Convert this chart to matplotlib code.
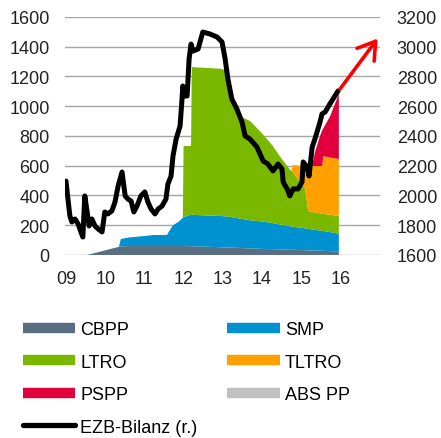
import numpy as np
import matplotlib.pyplot as plt
from matplotlib.lines import Line2D

plt.rcParams['font.family'] = ['Liberation Sans', 'DejaVu Sans']

# --- Data (EUR bn, left axis) ---
dates = [2009.00, 2009.54, 2010.35, 2010.40, 2010.61, 2011.02, 2011.22, 2011.58,
         2011.63, 2011.73, 2011.88, 2011.98, 2012.00, 2012.19, 2012.21, 2012.95,
         2013.06, 2013.18, 2013.43, 2013.70, 2014.01, 2014.26, 2014.46, 2014.74,
         2014.79, 2014.97, 2014.99, 2015.03, 2015.07, 2015.10, 2015.18, 2015.28,
         2015.35, 2015.48, 2015.54, 2015.56, 2015.74, 2015.96]

cbpp = [0, 0, 55, 58, 60, 60, 60, 60, 60, 60, 60, 60, 60, 59, 59, 52,
        51, 50, 47, 44, 41, 39, 37, 35, 35, 33, 33, 33, 32, 32, 31, 30,
        30, 29, 28, 28, 26, 24]
smp = [0, 0, 0, 50, 58, 68, 74, 75, 100, 140, 165, 190, 195, 211, 211, 210,
       209, 206, 198, 189, 184, 176, 168, 157, 155, 151, 150, 149, 148, 147, 145, 142,
       140, 135, 134, 133, 128, 119]
ltro = [0, 0, 0, 0, 0, 0, 0, 0, 0, 0, 0, 0, 478, 463, 993, 990,
        985, 793, 689, 667, 590, 523, 457, 373, 365, 307, 302, 293, 280, 265, 120, 118,
        115, 116, 116, 116, 116, 119]
tltro = [0, 0, 0, 0, 0, 0, 0, 0, 0, 0, 0, 0, 0, 0, 0, 0,
         0, 0, 0, 0, 0, 0, 0, 0, 50, 109, 115, 177, 145, 156, 302, 308,
         313, 318, 322, 388, 385, 383]
pspp = [0, 0, 0, 0, 0, 0, 0, 0, 0, 0, 0, 0, 0, 0, 0, 0,
        0, 0, 0, 0, 0, 0, 0, 0, 0, 0, 0, 0, 0, 0, 0, 0,
        92, 202, 240, 185, 279, 437]
abspp = [0] * len(dates)

# --- ECB balance sheet (EUR bn, right axis) ---
bil_dates = [2009.00, 2009.05, 2009.10, 2009.15, 2009.23, 2009.31, 2009.38, 2009.43,
             2009.48, 2009.54, 2009.59, 2009.66, 2009.74, 2009.82, 2009.92, 2009.99,
             2010.07, 2010.17, 2010.25, 2010.33, 2010.43, 2010.51, 2010.58, 2010.66,
             2010.73, 2010.81, 2010.91, 2011.01, 2011.09, 2011.17, 2011.27, 2011.35,
             2011.45, 2011.55, 2011.60, 2011.68, 2011.73, 2011.81, 2011.91, 2011.96,
             2011.98, 2012.04, 2012.09, 2012.14, 2012.19, 2012.24, 2012.37, 2012.49,
             2012.67, 2012.85, 2012.98, 2013.06, 2013.13, 2013.23, 2013.36, 2013.49,
             2013.57, 2013.69, 2013.87, 2014.03, 2014.15, 2014.28, 2014.41, 2014.51,
             2014.54, 2014.64, 2014.71, 2014.79, 2014.92, 2015.02, 2015.05, 2015.15,
             2015.20, 2015.28, 2015.35, 2015.48, 2015.53, 2015.61, 2015.73, 2015.86,
             2015.94]
bilanz = [2097, 1976, 1862, 1822, 1842, 1808, 1755, 1721,
          1997, 1889, 1795, 1842, 1795, 1775, 1755, 1889,
          1876, 1896, 1956, 2064, 2158, 1997, 1976, 1963,
          1889, 1929, 1997, 2024, 1956, 1909, 1876, 1909,
          1929, 1976, 2077, 2131, 2266, 2380, 2467, 2649,
          2736, 2669, 2669, 2918, 3018, 2971, 2985, 3099,
          3086, 3066, 3032, 2918, 2783, 2649, 2581, 2494,
          2400, 2380, 2326, 2232, 2212, 2165, 2212, 2178,
          2091, 2044, 1997, 2044, 2044, 2091, 2225, 2192,
          2131, 2326, 2380, 2494, 2548, 2561, 2615, 2669,
          2703]

years = [2009, 2010, 2011, 2012, 2013, 2014, 2015, 2016]
year_labels = ['09', '10', '11', '12', '13', '14', '15', '16']

names = ['CBPP', 'SMP', 'LTRO', 'TLTRO', 'PSPP', 'ABS PP']
colors = ['#5a6e82', '#0091d0', '#7ab800', '#ffa000', '#e1003c', '#c0c0c0']

# --- Figure ---
fig = plt.figure(figsize=(4.41, 4.39), dpi=100)
ax = fig.add_axes([0.1474, 0.4169, 0.7143, 0.5421])

ax.stackplot(dates, cbpp, smp, ltro, tltro, pspp, abspp, colors=colors, lw=0)

ax.set_xlim(2008.975, 2017.01)
ax.set_ylim(0, 1600)
ax.set_yticks(range(0, 1601, 200))
ax.set_xticks(years)
ax.set_xticklabels(year_labels)
ax.grid(axis='y', color='#a6a6a6', linewidth=1)
ax.set_axisbelow(True)
for s in ax.spines.values():
    s.set_visible(False)
ax.tick_params(length=0, labelsize=13, pad=11, colors='#222222')

# right axis: balance sheet
ax2 = ax.twinx()
ax2.plot(bil_dates, bilanz, color='black', lw=3.6, solid_joinstyle='round',
         solid_capstyle='round')
ax2.set_ylim(1600, 3200)
ax2.set_yticks(range(1600, 3201, 200))
for s in ax2.spines.values():
    s.set_visible(False)
ax2.tick_params(length=0, labelsize=13, pad=12, colors='#222222')

# red arrow
ax2.annotate('', xy=(2016.95, 3055), xytext=(2015.99, 2716),
             arrowprops=dict(arrowstyle='->,head_length=0.55,head_width=0.35',
                             color='#ff0000', lw=2.6,
                             mutation_scale=22, shrinkA=0, shrinkB=0))

# --- Legend ---
h = [Line2D([], [], color=colors[i], lw=7.5, solid_capstyle='butt') for i in range(6)]
hb = Line2D([], [], color='black', lw=3.8, solid_capstyle='round')
handles = [h[0], h[2], h[4], hb, h[1], h[3], h[5]]
labels = ['CBPP', 'LTRO', 'PSPP', 'EZB-Bilanz (r.)', 'SMP', 'TLTRO', 'ABS PP']
fig.legend(handles, labels, loc='upper left', bbox_to_anchor=(0.052, 0.266),
           ncol=2, frameon=False, fontsize=13, handlelength=2.9,
           handletextpad=0.28, columnspacing=1.65, labelspacing=0.86,
           borderpad=0, borderaxespad=0)

plt.savefig('out.png', dpi=100)
